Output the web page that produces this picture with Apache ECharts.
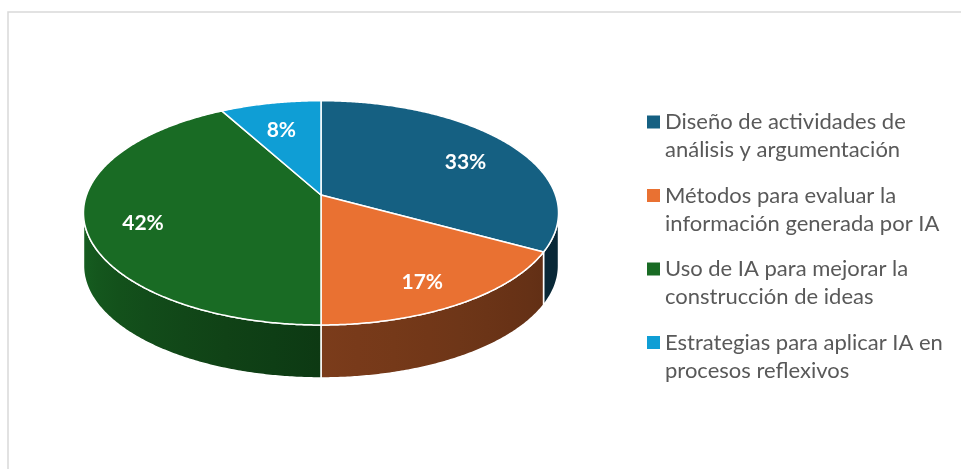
<!DOCTYPE html>
<html>
<head>
<meta charset="utf-8">
<script src="https://cdn.jsdelivr.net/npm/echarts@6/dist/echarts.min.js"></script>
<style>
  html, body { margin: 0; padding: 0; background: #ffffff; }
  #chart { width: 961px; height: 469px; }
</style>
</head>
<body>
<div id="chart"></div>
<script>
// Survey shares (percent) per topic
const categories = [
  'Diseño de actividades de\nanálisis y argumentación',
  'Métodos para evaluar la\ninformación generada por IA',
  'Uso de IA para mejorar la\nconstrucción de ideas',
  'Estrategias para aplicar IA en\nprocesos reflexivos'
];
const shares = [33, 17, 42, 8];
const palette = ['#156082', '#E97132', '#196B24', '#0F9ED5'];

// Tilted disc: centre point, radii, perspective strength and slab thickness
const CX = 321, CY = 195, RX = 234.5, RY = 109.3, PERSP = 0.159, DEPTH = 53;
const LABEL_R = 0.76, LABEL_DY = 7;

const total = shares.reduce((a, b) => a + b, 0);
const starts = [];
shares.reduce((acc, v) => { starts.push(acc); return acc + v; }, 0);

// angle in degrees, clockwise from 12 o'clock; r in units of the radius
function project(deg, r) {
  const t = deg * Math.PI / 180;
  const X = r * Math.sin(t), Z = r * Math.cos(t);
  const s = 1 / (1 + PERSP * Z);
  return [CX + RX * X * s, CY - RY * Z * s];
}

// rim is visible between the two silhouette points of the ellipse
const FRONT_MIN = Math.acos(-PERSP) * 180 / Math.PI;
const FRONT_MAX = 360 - FRONT_MIN;

function arc(a0, a1) {
  const pts = [];
  const n = Math.max(2, Math.ceil((a1 - a0) / 0.5));
  for (let k = 0; k <= n; k++) pts.push(project(a0 + (a1 - a0) * k / n, 1));
  return pts;
}

function shade(hex, f) {
  const c = echarts.color.parse(hex);
  return 'rgb(' + [0, 1, 2].map(i => Math.round(c[i] * f)).join(',') + ')';
}

// rim brightness by facing direction (lit from the left)
function rimLight(deg) {
  const nodes = [[99, 0.42], [120, 0.42], [180, 0.53], [262, 0.9]];
  if (deg <= nodes[0][0]) return nodes[0][1];
  for (let i = 1; i < nodes.length; i++) {
    if (deg <= nodes[i][0]) {
      const [d0, f0] = nodes[i - 1], [d1, f1] = nodes[i];
      return f0 + (f1 - f0) * (deg - d0) / (d1 - d0);
    }
  }
  return nodes[nodes.length - 1][1];
}

function renderSlice(params, api) {
  const v = api.value(0), start = api.value(1);
  const a0 = start / total * 360, a1 = (start + v) / total * 360;
  const color = api.visual('color');
  const children = [];

  const lo = Math.max(a0, FRONT_MIN), hi = Math.min(a1, FRONT_MAX);
  if (hi > lo) {
    const topPts = arc(lo, hi);
    const bottomPts = topPts.map(p => [p[0], p[1] + DEPTH]).reverse();
    const xs = topPts.map(p => p[0]);
    const minX = Math.min(...xs), maxX = Math.max(...xs);
    const stops = [];
    for (let k = 0; k <= 8; k++) {
      const d = lo + (hi - lo) * k / 8;
      const x = project(d, 1)[0];
      stops.push({ offset: (x - minX) / Math.max(1, maxX - minX), color: shade(color, rimLight(d)) });
    }
    stops.sort((a, b) => a.offset - b.offset);
    children.push({
      type: 'polygon', z2: 1,
      shape: { points: topPts.concat(bottomPts) },
      style: {
        fill: new echarts.graphic.LinearGradient(0, 0, 1, 0, stops),
        stroke: '#ffffff', lineWidth: 1.5, lineJoin: 'round'
      }
    });
  }

  children.push({
    type: 'polygon', z2: 10,
    shape: { points: [[CX, CY]].concat(arc(a0, a1)) },
    style: { fill: color, stroke: '#ffffff', lineWidth: 1.5, lineJoin: 'round' }
  });

  const lp = project((a0 + a1) / 2, LABEL_R);
  children.push({
    type: 'text', z2: 20, x: lp[0], y: lp[1] + LABEL_DY,
    style: {
      text: Math.round(v / total * 100) + '%',
      fill: '#ffffff', font: 'bold 21px Lato',
      align: 'center', verticalAlign: 'middle'
    }
  });
  return { type: 'group', children };
}

const chart = echarts.init(document.getElementById('chart'), null, { renderer: 'canvas' });
chart.setOption({
  animation: false,
  backgroundColor: '#ffffff',
  graphic: [{
    type: 'polyline', silent: true,
    shape: { points: [[8, 469], [8, 12], [961, 12]] },
    style: { stroke: '#d9d9d9', lineWidth: 1.5, fill: null }
  }],
  legend: {
    orient: 'vertical', left: 647, top: 80, padding: 0,
    icon: 'rect', itemWidth: 13, itemHeight: 13, itemGap: -10.5,
    selectedMode: false,
    // a leading blank line keeps the first text line level with the swatch
    formatter: name => '\n' + name,
    textStyle: { fontFamily: 'Lato', fontSize: 22, color: '#595959', lineHeight: 28 },
    data: categories
  },
  series: shares.map((v, i) => ({
    type: 'custom', name: categories[i], coordinateSystem: 'none', silent: true, z: 2,
    itemStyle: { color: palette[i] },
    renderItem: renderSlice,
    data: [[v, starts[i]]]
  }))
});
</script>
</body>
</html>
